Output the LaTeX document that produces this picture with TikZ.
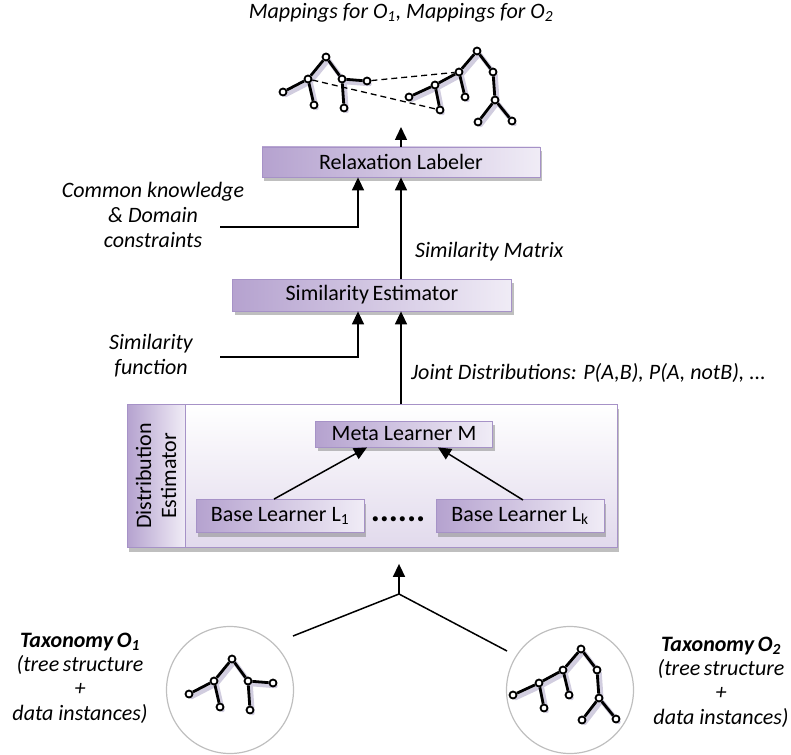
\documentclass[tikz,border=0pt]{standalone}
\usepackage{fontspec}
\setmainfont{Carlito}
\usetikzlibrary{arrows.meta,shadows,positioning,backgrounds}

\definecolor{lavdark}{HTML}{B5A2CF}
\definecolor{lavlight}{HTML}{F0ECF6}
\definecolor{lavedge}{HTML}{A692C7}
\definecolor{treeshade}{HTML}{8C82AE}

% shifted copy of a tree point, for the shadow
\newcommand{\tsh}[1]{([shift={(2.5,3)}]#1.center)}

\tikzset{
  box/.style={draw=lavedge, line width=0.8pt, left color=lavdark, right color=lavlight,
    drop shadow={shadow xshift=2pt, shadow yshift=-4pt, opacity=0.5, fill=gray},
    font=\fontsize{22}{25}\selectfont, inner sep=0pt},
  lbl/.style={font=\fontsize{22}{25}\selectfont\itshape, align=center, inner sep=0pt},
  arr/.style={-{Triangle[width=12pt,length=13pt]}, line width=1.5pt},
  conn/.style={line width=1.5pt},
  tnode/.style={circle, draw, line width=1.8pt, fill=white, inner sep=0pt, minimum size=7pt},
  tedge/.style={line width=2.8pt},
  tshade/.style={treeshade, opacity=0.4, line width=4.5pt, line cap=round},
  ring/.style={circle, draw=black!25, line width=1.2pt, minimum size=127pt, inner sep=0pt},
  % small tree with two inner nodes
  pics/treeone/.style={code={
    \node[tnode] (-r) at (0,0) {};
    \node[tnode] (-a) at (-18,22) {};
    \node[tnode] (-b) at (16,22) {};
    \node[tnode] (-l1) at (-43,35) {};
    \node[tnode] (-l2) at (-12,48) {};
    \node[tnode] (-l3) at (41,24) {};
    \node[tnode] (-l4) at (18,51) {};
    \draw[tedge] (-r) -- (-a) (-r) -- (-b) (-a) -- (-l1) (-a) -- (-l2)
      (-b) -- (-l3) (-b) -- (-l4);
    \begin{scope}[on background layer]
      \draw[tshade] \tsh{-l1} -- \tsh{-a} -- \tsh{-r} -- \tsh{-b} -- \tsh{-l3}
        \tsh{-a} -- \tsh{-l2} \tsh{-b} -- \tsh{-l4};
    \end{scope}
  }},
  % larger tree
  pics/treetwo/.style={code={
    \node[tnode] (-r) at (0,0) {};
    \node[tnode] (-c) at (-18,21) {};
    \node[tnode] (-d) at (-42,34) {};
    \node[tnode] (-e) at (16,21) {};
    \node[tnode] (-f) at (18,49) {};
    \node[tnode] (-l1) at (-68,46) {};
    \node[tnode] (-l2) at (-37,59) {};
    \node[tnode] (-l3) at (-12,46) {};
    \node[tnode] (-l4) at (1,71) {};
    \node[tnode] (-l5) at (35,70) {};
    \draw[tedge] (-r) -- (-c) (-c) -- (-d) (-d) -- (-l1) (-d) -- (-l2)
      (-c) -- (-l3) (-r) -- (-e) (-e) -- (-f) (-f) -- (-l4) (-f) -- (-l5);
    \begin{scope}[on background layer]
      \draw[tshade] \tsh{-l1} -- \tsh{-d} -- \tsh{-c} -- \tsh{-r} -- \tsh{-e} -- \tsh{-f} -- \tsh{-l4}
        \tsh{-d} -- \tsh{-l2} \tsh{-c} -- \tsh{-l3} \tsh{-f} -- \tsh{-l5};
    \end{scope}
  }}
}

\begin{document}
\begin{tikzpicture}[x=1pt, y=-1pt]
\useasboundingbox (0,0) rectangle (791,754);

% mappings at the top
\node[lbl] (title) at (401,13) {Mappings for O\textsubscript{1}, Mappings for O\textsubscript{2}};
\pic (tl) at (326,57) {treeone};
\pic (tr) at (477,51) {treetwo};
\draw[line width=1.3pt, dash pattern=on 6pt off 4pt] (tl-l3) -- (tr-c) (tl-a) -- (tr-l2);

% pipeline boxes
\node[box, minimum width=278pt, minimum height=30pt] (relax) at (401,162) {Relaxation Labeler};
\node[box, minimum width=279pt, minimum height=32pt] (simest) at (372,295) {Similarity\,Estimator};

% distribution estimator
\node[draw=lavedge, line width=0.8pt, top color=white, bottom color=lavlight!75!lavdark,
  drop shadow={shadow xshift=2pt, shadow yshift=-4pt, opacity=0.5, fill=gray},
  minimum width=490pt, minimum height=143pt, inner sep=0pt] (de) at (372,476) {};
\node[draw=lavedge, line width=0.8pt, left color=lavdark, right color=lavlight,
  minimum width=58pt, minimum height=143pt, inner sep=0pt, anchor=north west] (side) at (de.north west) {};
\node[rotate=90, align=center, font=\fontsize{22}{25}\selectfont] (sidetxt) at (side.center) {Distribution\\Estimator};
\node[box, minimum width=177pt, minimum height=26pt] (meta) at (404,434) {Meta Learner M};
\node[box, minimum width=168pt, minimum height=33pt] (base1) at (280,516) {Base Learner L\textsubscript{1}};
\node[box, minimum width=168pt, minimum height=33pt] (basek) at (520,516) {Base Learner L\textsubscript{k}};
\node[font=\fontsize{34}{34}\selectfont\bfseries, anchor=base, inner sep=0pt] (dots) at (398,521) {......};
\draw[arr] (base1.north) ++(-6,0) -- ([xshift=-37pt]meta.south);
\draw[arr] (basek) ++(3,-16) -- ([xshift=34pt]meta.south);

% side labels
\node[lbl] (ck) at (153,215) {Common knowledge\\\& Domain\\constraints};
\node[lbl] (simfn) at (151,356) {Similarity\\function};
\node[lbl, anchor=west] (simmat) at (415,252) {Similarity Matrix};
\node[lbl, anchor=west] (joint) at (411,373) {Joint Distributions: P(A,B), P(A, notB), ...};

\coordinate (ckin) at (220,227);
\coordinate (sfin) at (220,357);
\coordinate (maptip) at (401,127);
\draw[arr] (relax.north) -- (maptip);
\draw[arr] (relax.south |- simest.north) -- (relax.south);
\draw[arr] (ckin) -| ([xshift=-43pt]relax.south);
\draw[arr] (relax.south |- de.north) -- (relax.south |- simest.south);
\draw[arr] (sfin) -| ([xshift=-14pt]simest.south);

% taxonomies at the bottom
\node[ring] (ring1) at (230,690) {};
\node[ring] (ring2) at (570,690) {};
\pic (bl) at (232,659) {treeone};
\pic (br) at (581,649) {treetwo};
\node[lbl, font=\fontsize{22}{24.3}\selectfont\itshape] (tax1) at (80,678) {\textbf{Taxonomy\,O\textsubscript{1}}\\(tree\,structure\\+\\data instances)};
\node[lbl, font=\fontsize{22}{24.3}\selectfont\itshape] (tax2) at (721,682) {\textbf{Taxonomy\,O\textsubscript{2}}\\(tree\,structure\\+\\data instances)};

\coordinate (s1) at (293,636);
\coordinate (s2) at (507,651);
\coordinate (junc) at (399,594);
\draw[conn] (s1) -- (junc) -- (s2);
\draw[arr, shorten >=16pt] (junc) -- (junc |- de.south);
\end{tikzpicture}
\end{document}
